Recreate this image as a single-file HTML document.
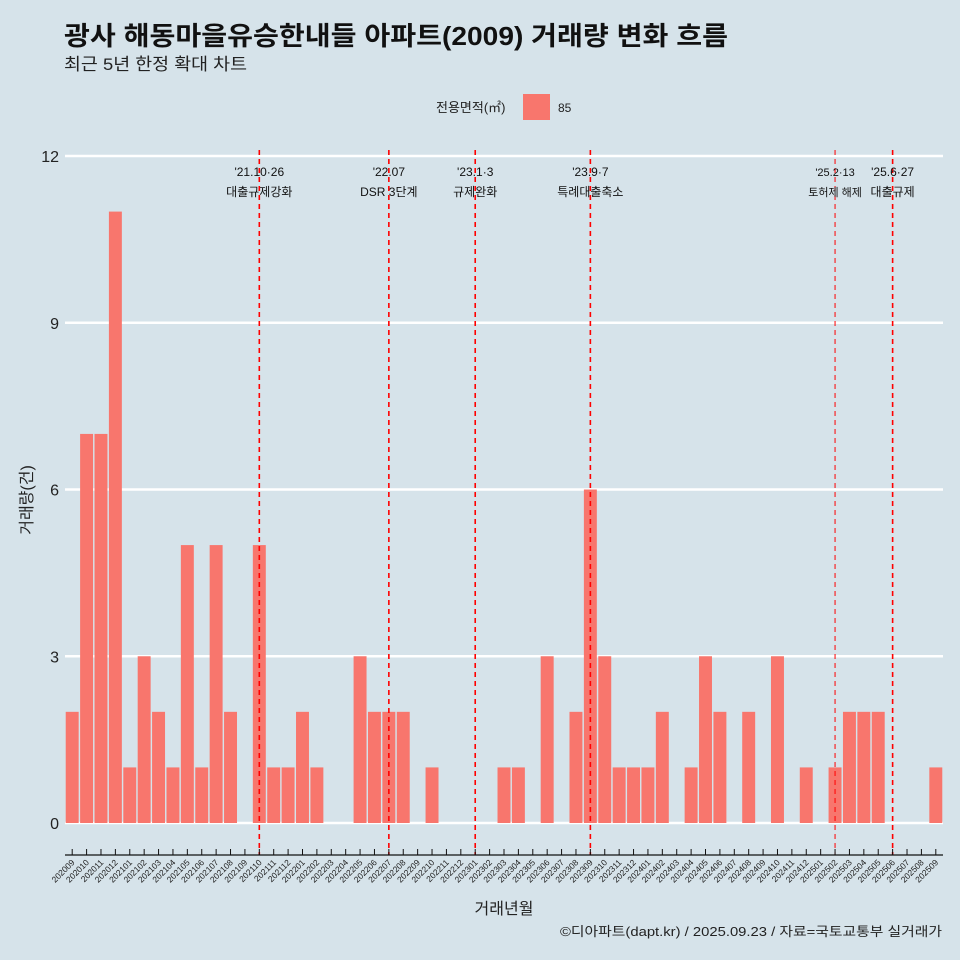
<!DOCTYPE html>
<html><head><meta charset="utf-8"><style>
body{margin:0;background:#d6e3ea;}
svg{display:block;font-family:"Liberation Sans","Noto Sans CJK KR",sans-serif;}
</style></head><body>
<svg id="c" width="960" height="960" viewBox="0 0 960 960">
<rect width="960" height="960" fill="#d6e3ea"/>
<text x="64" y="45" font-size="26" font-weight="bold" fill="#111" textLength="664" lengthAdjust="spacingAndGlyphs">광사 해동마을유승한내들 아파트(2009) 거래량 변화 흐름</text>
<text x="64" y="70" font-size="17" fill="#222" textLength="183" lengthAdjust="spacingAndGlyphs">최근 5년 한정 확대 차트</text>
<g>
<text x="436" y="112" font-size="13" fill="#222">전용면적(㎡)</text>
<rect x="523" y="94" width="27" height="26" fill="#f8766d"/>
<text x="558" y="112" font-size="12" fill="#222">85</text>
</g>
<g id="grid"></g><g id="bars"></g><g id="events"></g><g id="axes"></g>
<text x="32" y="500" font-size="16" fill="#222" text-anchor="middle" transform="rotate(-90 32 500)">거래량(건)</text>
<text x="504" y="914" font-size="16" fill="#222" text-anchor="middle">거래년월</text>
<text x="942" y="936" font-size="13" fill="#222" text-anchor="end" textLength="382" lengthAdjust="spacingAndGlyphs">©디아파트(dapt.kr) / 2025.09.23 / 자료=국토교통부 실거래가</text>
</svg>
<script>
const categories=[];for(let y=2020,m=9;y<2025||(y===2025&&m<=9);){categories.push(y+String(m).padStart(2,'0'));m++;if(m>12){m=1;y++;}}
const counts=[2,7,7,11,1,3,2,1,5,1,5,2,0,5,1,1,2,1,0,0,3,2,2,2,0,1,0,0,0,0,1,1,0,3,0,2,6,3,1,1,1,2,0,1,3,2,0,2,0,3,0,1,0,1,2,2,2,0,0,0,1];
const yTicks=[0,3,6,9,12];
const eventMonths=['202110','202207','202301','202309','202502','202506'];
const eventDates=["'21.10·26","'22.07","'23.1·3","'23.9·7","'25.2·13","'25.6·27"];
const eventNames=["대출규제강화","DSR 3단계","규제완화","특례대출축소","토허제 해제","대출규제"];
const NS='http://www.w3.org/2000/svg';
const x0=65,x1=943,y0=823,y12=156;
const bw=(x1-x0)/categories.length;
const xs=i=>x0+bw*(i+0.5);
const ys=v=>y0-(v/12)*(y0-y12);
function mk(t,a,p){const e=document.createElementNS(NS,t);for(const k in a)e.setAttribute(k,a[k]);p.appendChild(e);return e;}
const grid=document.getElementById('grid'),bars=document.getElementById('bars'),ev=document.getElementById('events'),ax=document.getElementById('axes');
yTicks.forEach(t=>{
 const l=mk('line',{x1:x0,x2:x1,y1:ys(t),y2:ys(t),stroke:'#fff','stroke-width':2.5},grid);
 
 
 const tx=mk('text',{x:x0-6,y:ys(t)+6,'font-size':16,'text-anchor':'end',fill:'#222'},ax);tx.textContent=t;
 
 
});
counts.forEach((v,i)=>{
 if(v<=0)return;
 const r=mk('rect',{x:xs(i)-bw*0.45,width:bw*0.9,y:ys(v),height:y0-ys(v),fill:'#f8766d'},bars);
 
 
});
eventMonths.forEach((m,k)=>{
 const i=categories.indexOf(m),x=xs(i);
 const thin=k===4;
 const l=mk('line',{x1:x,x2:x,y1:150,y2:855,stroke:'#ff0000','stroke-width':thin?1:1.6,'stroke-dasharray':'5,4'},ev);
 
 
 const fs=thin?11:12;
 const t1=mk('text',{x:x,y:176,'font-size':fs,'text-anchor':'middle',fill:'#111'},ev);t1.textContent=eventDates[k];
 
 
 const t2=mk('text',{x:x,y:196,'font-size':fs,'text-anchor':'middle',fill:'#111'},ev);t2.textContent=eventNames[k];
 
 
});
const al=mk('line',{x1:x0,x2:x1,y1:855,y2:855,stroke:'#111','stroke-width':1.2},ax);


categories.forEach((c,i)=>{
 const x=xs(i);
 mk('line',{x1:x,x2:x,y1:849,y2:855,stroke:'#111','stroke-width':1},ax);
 const t=mk('text',{x:x+3,y:863,'font-size':8.5,'text-anchor':'end',fill:'#222',transform:`rotate(-45 ${x+3} 863)`},ax);t.textContent=c;
 
 
});
</script>
</body></html>
